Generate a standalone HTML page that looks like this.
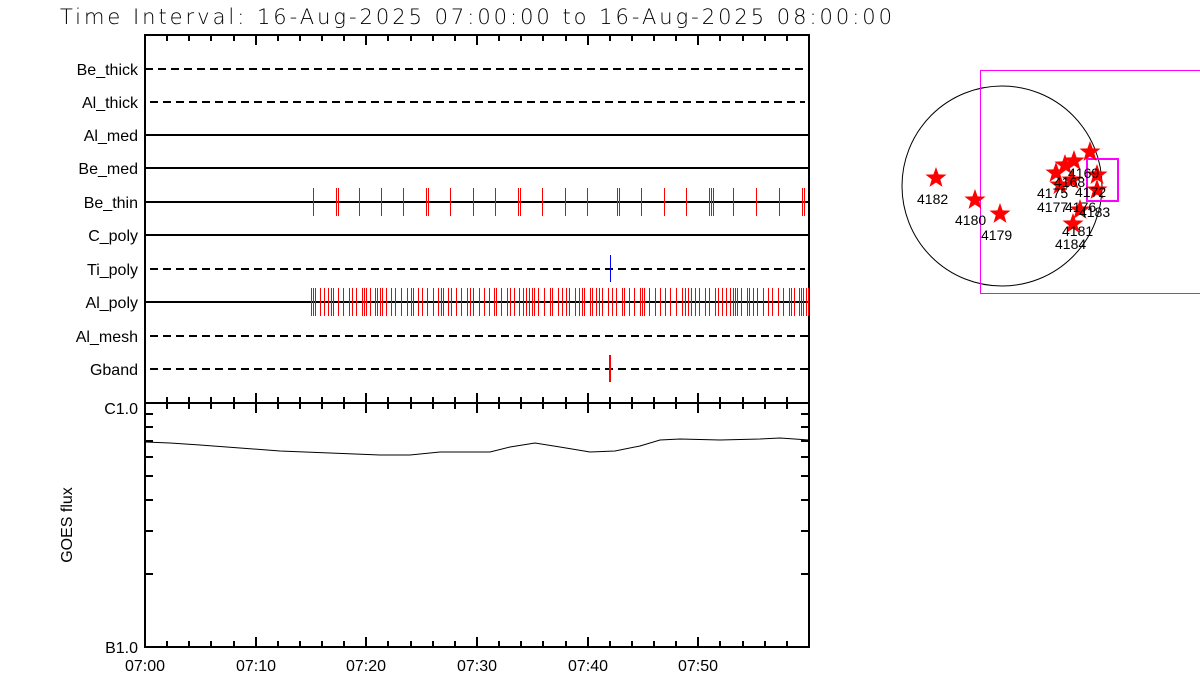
<!DOCTYPE html>
<html><head><style>
body{margin:0;background:#fff;}
svg{display:block;font-family:"Liberation Sans",sans-serif;}
</style></head><body>
<svg id="s" width="1200" height="700" xmlns="http://www.w3.org/2000/svg">
<text x="60" y="24" font-size="21" fill="#000" textLength="832" font-family="DejaVu Sans" font-weight="300">Time Interval: 16-Aug-2025 07:00:00 to 16-Aug-2025 08:00:00</text>
<g font-size="16" text-anchor="end" fill="#000">
<text x="138" y="75">Be_thick</text>
<text x="138" y="108">Al_thick</text>
<text x="138" y="141">Al_med</text>
<text x="138" y="174">Be_med</text>
<text x="138" y="208">Be_thin</text>
<text x="138" y="241">C_poly</text>
<text x="138" y="275">Ti_poly</text>
<text x="138" y="308">Al_poly</text>
<text x="138" y="342">Al_mesh</text>
<text x="138" y="375">Gband</text>
<text x="138" y="414">C1.0</text>
<text x="138" y="653">B1.0</text>
</g>
<text transform="translate(72,525) rotate(-90)" font-size="16" text-anchor="middle">GOES flux</text>
<g font-size="16" text-anchor="middle">
<text x="145" y="671">07:00</text><text x="256" y="671">07:10</text><text x="366" y="671">07:20</text>
<text x="477" y="671">07:30</text><text x="588" y="671">07:40</text><text x="698" y="671">07:50</text>
</g>
<g stroke="#000" stroke-width="2" fill="none" shape-rendering="crispEdges">
<rect x="145" y="35" width="664" height="612"/>
<line x1="145" y1="403" x2="809" y2="403"/>
<line x1="145" y1="69" x2="809" y2="69" stroke-dasharray="8,5"/>
<line x1="150" y1="102" x2="805" y2="102" stroke-dasharray="8,5"/>
<line x1="145" y1="135" x2="809" y2="135"/>
<line x1="145" y1="168" x2="809" y2="168"/>
<line x1="145" y1="202" x2="809" y2="202"/>
<line x1="145" y1="235" x2="809" y2="235"/>
<line x1="150" y1="269" x2="805" y2="269" stroke-dasharray="8,5"/>
<line x1="145" y1="302" x2="809" y2="302"/>
<line x1="150" y1="336" x2="809" y2="336" stroke-dasharray="8,5"/>
<line x1="150" y1="369" x2="809" y2="369" stroke-dasharray="8,5"/>
</g>
<g id="ticks" stroke="#000" stroke-width="2" shape-rendering="crispEdges"></g>
<g id="red" fill="#f00"></g>
<rect x="610" y="255" width="1" height="27" fill="#00f"/>
<rect x="609" y="355" width="2" height="27" fill="#f00"/>
<polyline fill="none" stroke="#000" stroke-width="1" points="145,442 170,443 200,445 240,448 280,451 330,453 380,455 410,455 440,452 490,452 510,447 535,443 560,447 590,452 615,451 640,446 660,440 680,439 720,440 760,439 780,438 809,440"/>
<circle cx="1002" cy="186" r="100" fill="none" stroke="#000" stroke-width="1"/>
<polyline fill="none" stroke="#f0f" stroke-width="1" points="1200,70.5 980.5,70.5 980.5,293.5 1200,293.5" shape-rendering="crispEdges"/>
<rect x="1087" y="159" width="31" height="42" fill="none" stroke="#f0f" stroke-width="2" shape-rendering="crispEdges"/>
<g id="stars" fill="#f00"></g>
<g font-size="14" fill="#000">
<text x="917" y="204">4182</text><text x="955" y="225">4180</text><text x="981" y="240">4179</text>
<text x="1037" y="198">4175</text><text x="1037" y="212">4177</text><text x="1054" y="187">4168</text>
<text x="1068" y="178">4169</text><text x="1075" y="197">4172</text><text x="1065" y="212">4176</text>
<text x="1079" y="217">4183</text><text x="1062" y="236">4181</text><text x="1055" y="249">4184</text>
</g>
</svg>
<script>
var NS="http://www.w3.org/2000/svg";
function L(g,x1,y1,x2,y2){var l=document.createElementNS(NS,"line");l.setAttribute("x1",x1);l.setAttribute("y1",y1);l.setAttribute("x2",x2);l.setAttribute("y2",y2);document.getElementById(g).appendChild(l);}
function R(x,y,h){var r=document.createElementNS(NS,"rect");r.setAttribute("x",x);r.setAttribute("y",y);r.setAttribute("width",1);r.setAttribute("height",h);document.getElementById("red").appendChild(r);}
var px=664/60;
for(var m=2;m<60;m+=2){var x=Math.round(145+m*px),len=(m%10==0)?10:6;L("ticks",x,35,x,35+len);L("ticks",x,403-len,x,403+len);L("ticks",x,647,x,647-len);}
for(var k=2;k<=9;k++){var y=Math.round(647-244*Math.log10(k));L("ticks",145,y,153,y);L("ticks",809,y,801,y);}
var bt=[313,336,338,359,381,403,426,428,450,473,495,518,520,542,565,587,617,619,641,664,686,709,711,713,733,756,779,802,804];
bt.forEach(function(x){R(x,188,28);});
var s=1;function r(){s=(s*16807)%2147483647;return s/2147483647;}
var x=311;while(x<809){R(x,288,28);x+=2+Math.floor(r()*5);}
R(808,288,28);
var st=[[936,178],[975,200],[1000,214],[1056,173],[1074,161],[1090,152],[1097,175],[1097,190],[1080,210],[1073,224],[1060,185],[1072,180],[1065,165]];
st.forEach(function(p){var pts=[];for(var i=0;i<10;i++){var a=-Math.PI/2+i*Math.PI/5,rr=i%2?4.5:11;pts.push((p[0]+rr*Math.cos(a)).toFixed(1)+","+(p[1]+rr*Math.sin(a)).toFixed(1));}
var pg=document.createElementNS(NS,"polygon");pg.setAttribute("points",pts.join(" "));document.getElementById("stars").appendChild(pg);});
</script>
</body></html>
